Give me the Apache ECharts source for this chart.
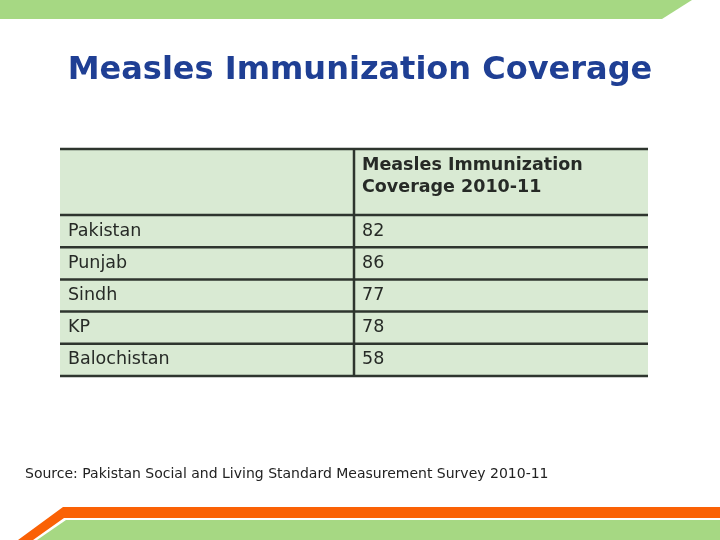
<!DOCTYPE html>
<html><head><meta charset="utf-8">
<script src="https://cdn.jsdelivr.net/npm/echarts@6/dist/echarts.min.js"></script>
<style>html,body{margin:0;padding:0;background:#fff}#c{width:720px;height:540px}</style>
</head><body><div id="c"></div>
<script>
const titleText = 'Measles Immunization Coverage';
const columnHeaders = ['', 'Measles Immunization\nCoverage 2010-11'];
const regions = ['Pakistan', 'Punjab', 'Sindh', 'KP', 'Balochistan'];
const coverage = [82, 86, 77, 78, 58];
const sourceText = 'Source: Pakistan Social and Living Standard Measurement Survey 2010-11';

const HEADER_UNITS = 2.05;
const FONT = "'DejaVu Sans', Verdana, sans-serif";
const LINE = '#2e352e';
const FILL = '#d9ead3';
const TXT = '#262a26';

const rows = [columnHeaders].concat(regions.map((r, i) => [r, String(coverage[i])]));
const rowData = rows.map((r, i) => [1, i]);

function rowSpan(i) {
  if (i === 0) return [0, HEADER_UNITS];
  return [HEADER_UNITS + i - 1, HEADER_UNITS + i];
}

const chart = echarts.init(document.getElementById('c'), null, {renderer: 'canvas'});
chart.setOption({
  animation: false,
  backgroundColor: '#ffffff',
  title: {
    text: titleText, left: 'center', top: 55, padding: 0,
    textStyle: {fontFamily: FONT, fontSize: 32, fontWeight: 'bold', color: '#1f3f94'}
  },
  grid: {left: 60, right: 72, top: 149, bottom: 164},
  xAxis: {type: 'value', min: 0, max: 2, show: false},
  yAxis: {type: 'value', min: 0, max: HEADER_UNITS + regions.length, inverse: true, show: false},
  series: [{
    type: 'custom',
    data: rowData,
    renderItem: function (params, api) {
      const i = api.value(1);
      const s = rowSpan(i);
      const p0 = api.coord([0, s[0]]);
      const p1 = api.coord([2, s[1]]);
      const pm = api.coord([1, s[0]]);
      const children = [
        {type: 'rect', z2: 0, shape: {x: p0[0], y: p0[1], width: p1[0] - p0[0], height: p1[1] - p0[1]}, style: {fill: FILL}},
        {type: 'line', z2: 10, shape: {x1: pm[0], y1: p0[1], x2: pm[0], y2: p1[1]}, style: {stroke: LINE, lineWidth: 2.5}},
        {type: 'line', z2: 10, shape: {x1: p0[0], y1: p1[1], x2: p1[0], y2: p1[1]}, style: {stroke: LINE, lineWidth: 2.5}}
      ];
      if (i === 0) {
        children.push({type: 'line', z2: 10, shape: {x1: p0[0], y1: p0[1], x2: p1[0], y2: p0[1]}, style: {stroke: LINE, lineWidth: 2.5}});
        children.push({type: 'text', z2: 20, x: pm[0] + 8, y: p0[1] + 5,
          style: {text: rows[i][1], fontFamily: FONT, fontSize: 17.5, fontWeight: 'bold', fill: TXT,
                  lineHeight: 22, verticalAlign: 'top', align: 'left'}});
      } else {
        const cy = (p0[1] + p1[1]) / 2;
        children.push({type: 'text', z2: 20, x: p0[0] + 8, y: cy,
          style: {text: rows[i][0], fontFamily: FONT, fontSize: 17.5, fill: TXT, verticalAlign: 'middle', align: 'left'}});
        children.push({type: 'text', z2: 20, x: pm[0] + 8, y: cy,
          style: {text: rows[i][1], fontFamily: FONT, fontSize: 17.5, fill: TXT, verticalAlign: 'middle', align: 'left'}});
      }
      return {type: 'group', children: children};
    }
  }],
  graphic: [
    {type: 'polygon', shape: {points: [[0, 0], [692, 0], [662, 19], [0, 19]]}, style: {fill: '#a6d883'}},
    {type: 'polygon', shape: {points: [[18, 540], [63, 507], [720, 507], [720, 518], [64, 518], [33, 540]]}, style: {fill: '#fa6105'}},
    {type: 'polygon', shape: {points: [[37, 540], [66, 520], [720, 520], [720, 540]]}, style: {fill: '#a6d883'}},
    {type: 'text', left: 25, top: 467, style: {text: sourceText, fontFamily: FONT, fontSize: 14, fill: '#222222'}}
  ]
});
</script></body></html>
